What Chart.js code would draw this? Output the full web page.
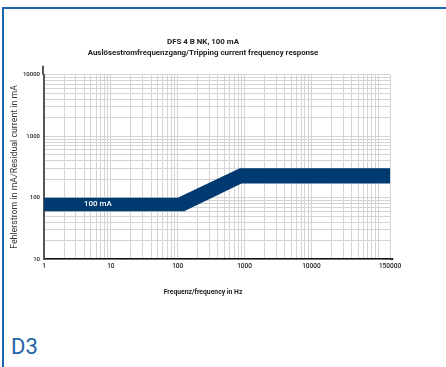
<!DOCTYPE html>
<html>
<head>
<meta charset="utf-8">
<script src="https://cdn.jsdelivr.net/npm/chart.js@4.4.0/dist/chart.umd.min.js"></script>
<style>
html, body { margin: 0; padding: 0; background: #fff; }
body { width: 446px; height: 367px; position: relative; overflow: hidden; font-family: Roboto, "DejaVu Sans", sans-serif; }
#frame { position: absolute; left: 2px; top: 7px; width: 470px; height: 400px; border-left: 2px solid #1a63ad; border-top: 2px solid #1a63ad; }
#chartBox { position: absolute; left: 5px; top: 1px; width: 400px; height: 300px; }
#tag { position: absolute; left: 11px; top: 336px; font-size: 22px; line-height: 22px; color: #2463a6; }
</style>
</head>
<body>
<div id="frame"></div>
<div id="chartBox"><canvas id="myChart"></canvas></div>
<div id="tag">D3</div>
<script>
// band edges
const upperFreq = [1, 100, 850, 150000];
const upperCurrent = [100, 100, 300, 300];
const lowerFreq = [1, 125, 900, 150000];
const lowerCurrent = [60, 60, 170, 170];

const xTickLabels = [1, 10, 100, 1000, 10000, 150000];
const yTickLabels = [10, 100, 1000, 10000];

const bandText = '100 mA';
const bandTextAt = [6.4, 78];

const navy = '#003a70';
const gridGray = '#d4d4d4';

// gridlines at 1..9 x each decade, ending at the axis max
function logGrid(min, max) {
    let out = [];
    for (let d = min; d < max; d *= 10) {
        for (let m = 1; m < 10; m++) {
            let v = Math.round(m * d);
            if (v < max) out.push(v);
        }
    }
    out.push(max);
    return out;
}
const xGrid = logGrid(xTickLabels[0], xTickLabels[xTickLabels.length - 1]);
const yGrid = logGrid(yTickLabels[0], yTickLabels[yTickLabels.length - 1]);

function toPoints(xs, ys) {
    return xs.map((x, i) => ({x: x, y: ys[i]}));
}

const bandLabel = {
    id: 'bandLabel',
    afterDatasetsDraw(chart) {
        let c = chart.ctx;
        let x = chart.scales.x.getPixelForValue(bandTextAt[0]);
        let y = chart.scales.y.getPixelForValue(bandTextAt[1]);
        c.save();
        c.fillStyle = '#fff';
        c.font = '500 8px Roboto';
        c.textAlign = 'center';
        c.textBaseline = 'middle';
        c.fillText(bandText, x, y);
        c.restore();
    }
};

// little overshoot of the axes past the plot, like the original
const axisEnds = {
    id: 'axisEnds',
    afterDraw(chart) {
        let c = chart.ctx;
        let a = chart.chartArea;
        c.save();
        c.strokeStyle = '#555';
        c.lineWidth = 2;
        c.beginPath();
        c.moveTo(a.left - 1, a.top);
        c.lineTo(a.left - 1, a.top - 9);
        c.stroke();
        c.strokeStyle = '#111';
        c.lineWidth = 1.2;
        c.beginPath();
        c.moveTo(a.right, a.bottom);
        c.lineTo(a.right + 3, a.bottom);
        c.stroke();
        c.fillStyle = '#111';
        c.beginPath();
        c.moveTo(a.right + 4, a.bottom);
        c.lineTo(a.right + 1.5, a.bottom - 1.3);
        c.lineTo(a.right + 1.5, a.bottom + 1.3);
        c.fill();
        c.restore();
    }
};

new Chart(document.getElementById('myChart'), {
    type: 'line',
    data: {
        datasets: [{
            data: toPoints(lowerFreq, lowerCurrent),
            borderWidth: 0,
            pointRadius: 0,
            fill: false
        }, {
            data: toPoints(upperFreq, upperCurrent),
            borderWidth: 0,
            pointRadius: 0,
            backgroundColor: navy,
            fill: '-1'
        }]
    },
    options: {
        responsive: true,
        maintainAspectRatio: false,
        animation: false,
        layout: {padding: {left: 11, right: 15, top: 0, bottom: 0}},
        plugins: {
            legend: {display: false},
            tooltip: {enabled: false},
            title: {
                display: true,
                text: ['DFS 4 B NK, 100 mA', 'Auslösestromfrequenzgang/Tripping current frequency response'],
                color: '#222',
                font: {family: 'Roboto', size: 7.9, weight: 'bold', lineHeight: 1.32},
                padding: {top: 36, bottom: 17}
            },
            subtitle: {
                display: true,
                position: 'bottom',
                text: 'Frequenz/frequency in Hz',
                color: '#222',
                font: {family: 'Roboto', size: 6.8, weight: 'bold', lineHeight: 1.2},
                padding: {top: 15, bottom: 5}
            }
        },
        scales: {
            x: {
                type: 'logarithmic',
                min: xTickLabels[0],
                max: xTickLabels[xTickLabels.length - 1],
                afterBuildTicks: s => { s.ticks = xGrid.map(v => ({value: v})); },
                ticks: {
                    autoSkip: false,
                    maxRotation: 0,
                    padding: 3,
                    color: '#222',
                    font: {family: 'Roboto', size: 6.5, weight: '500'},
                    callback: v => xTickLabels.includes(v) ? String(v) : ''
                },
                grid: {color: gridGray, lineWidth: 1, drawTicks: false},
                border: {color: '#111', width: 1.5}
            },
            y: {
                type: 'logarithmic',
                min: yTickLabels[0],
                max: yTickLabels[yTickLabels.length - 1],
                afterBuildTicks: s => { s.ticks = yGrid.map(v => ({value: v})); },
                afterFit: s => { s.width = 28; },
                ticks: {
                    autoSkip: false,
                    padding: 4,
                    color: '#222',
                    font: {family: 'Roboto', size: 6, weight: '500'},
                    callback: v => yTickLabels.includes(v) ? String(v) : ''
                },
                title: {
                    display: true,
                    text: 'Fehlerstrom in mA/Residual current in mA',
                    color: '#333',
                    font: {family: 'Roboto', size: 8.8, lineHeight: 1.2},
                    padding: {top: -6, bottom: 0}
                },
                grid: {color: gridGray, lineWidth: 1, drawTicks: false},
                border: {color: '#555', width: 2}
            }
        }
    },
    plugins: [bandLabel, axisEnds]
});
</script>
</body>
</html>
